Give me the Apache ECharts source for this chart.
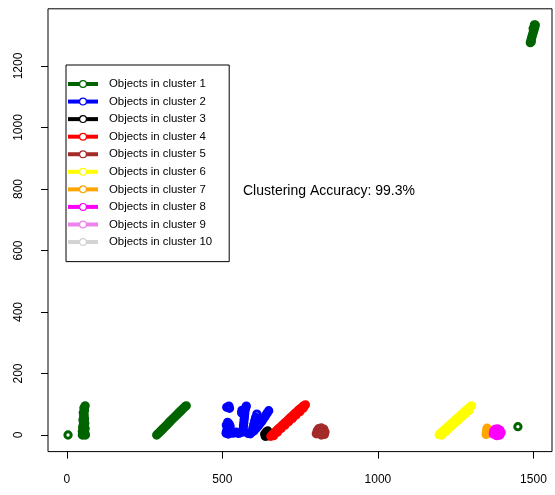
<!DOCTYPE html>
<html>
<head>
<meta charset="utf-8">
<script src="https://cdn.jsdelivr.net/npm/echarts@6/dist/echarts.min.js"></script>
<style>
html,body{margin:0;padding:0;background:#fff;}
#chart{width:555px;height:495px;}
</style>
</head>
<body>
<div id="chart"></div>
<script>
const xTicks = [0, 500, 1000, 1500];
const yTicks = [0, 200, 400, 600, 800, 1000, 1200];
const clusterNames = ['Objects in cluster 1','Objects in cluster 2','Objects in cluster 3','Objects in cluster 4','Objects in cluster 5','Objects in cluster 6','Objects in cluster 7','Objects in cluster 8','Objects in cluster 9','Objects in cluster 10'];
const clusterColors = ['#006400','#0000FF','#000000','#FF0000','#A52A2A','#FFFF00','#FFA500','#FF00FF','#EE82EE','#D3D3D3'];
const annotationText = 'Clustering Accuracy: 99.3%';

const cluster1 = [
 [4,0],
 [50,0],[55,1],[60,0],[52,5],[58,7],[50,11],[56,13],[53,18],[59,21],[51,25],[56,29],[53,34],[58,38],[55,44],[52,49],[57,53],[54,58],[56,65],[53,72],[57,80],[55,88],[59,95],
 [289,0],[294,5],[299,10],[304,15],[309,20],[314,25],[319,30],[324,35],[329,41],[334,46],[339,51],[344,56],[349,61],[354,66],[359,71],[364,76],[369,81],[374,86],[379,91],[384,95],
 [1450,27],
 [1490,1276],[1492,1284],[1494,1291],[1496,1298],[1498,1305],[1500,1312],[1502,1319],[1504,1326],[1506,1333],[1493,1279],[1499,1322],[1503,1334]
];
const cluster2 = [
 [514,90],[521,94],[523,87],
 [512,6],[519,3],[527,7],[514,14],[524,17],[516,24],[525,28],[513,32],[522,36],[517,41],
 [535,6],[544,9],[552,5],[559,8],
 [567,10],[567,20],[568,30],[569,40],[570,50],[571,60],[572,70],[573,80],[575,88],[577,94],[562,72],[563,80],
 [583,5],[590,4],[596,10],[598,22],[601,34],[604,46],[607,57],[611,68],
 [602,14],[609,22],[616,30],[622,38],[628,46],[634,55],[639,63],[644,71],[649,79]
];
const cluster3 = [[636,3],[641,10],[646,13],[643,1],[650,5],[638,-4],[645,-3]];
const cluster4 = [
 [656,-4],[661,1],[667,7],[673,13],[679,19],[685,24],[691,30],[697,36],[703,41],[709,47],[715,53],[721,58],[727,64],[733,70],[739,75],[745,81],[751,86],[757,91],[762,95],[767,98],
 [665,-2],[677,9],[689,21],[701,32],[713,43],[725,54],[737,65],[749,76],[760,87]
];
const cluster5 = [[802,4],[805,14],[810,21],[818,23],[826,19],[830,10],[828,2],[818,0],[810,6],[816,12],[822,8]];
const cluster6 = [
 [1197,1],[1202,6],[1208,11],[1213,16],[1219,21],[1224,26],[1230,31],[1235,36],[1241,41],[1246,46],[1252,51],[1257,56],[1263,61],[1268,66],[1274,71],[1279,76],[1285,81],[1290,86],[1296,91],[1301,95],
 [1205,0],[1216,10],[1227,20],[1238,30],[1249,40],[1260,50],[1271,60],[1282,70],[1293,80]
];
const cluster7 = [[1348,2],[1349,9],[1350,16],[1351,22],[1353,5]];
const cluster8 = [[1371,3],[1372,12],[1376,18],[1384,20],[1392,16],[1396,8],[1392,0],[1382,-2],[1378,8],[1386,10]];
const cluster9 = [];
const cluster10 = [];

const clusterData = [cluster1, cluster2, cluster3, cluster4, cluster5, cluster6, cluster7, cluster8, cluster9, cluster10];
const FONT = "'Liberation Sans', Arial, Helvetica, sans-serif";

const chart = echarts.init(document.getElementById('chart'), null, {renderer: 'canvas'});

const series = clusterNames.map((name, i) => ({
  name: name,
  type: 'line',
  data: clusterData[i],
  symbol: 'circle',
  symbolSize: 6.3,
  showSymbol: true,
  itemStyle: {color: 'transparent', borderColor: clusterColors[i], borderWidth: 3},
  lineStyle: {width: 0, opacity: 0, color: clusterColors[i]},
  emphasis: {disabled: true},
  silent: true,
  animation: false
}));

chart.setOption({
  animation: false,
  backgroundColor: '#fff',
  grid: {left: 48, right: 3, top: 8.8, bottom: 43.4, show: true, borderColor: '#000', borderWidth: 1, backgroundColor: 'transparent'},
  xAxis: {
    type: 'value', min: -60.4, max: 1559.6,
    axisLine: {show: false, onZero: false},
    splitLine: {show: false},
    axisTick: {show: true, customValues: xTicks, length: 7, inside: false, lineStyle: {color: '#000', width: 1}},
    axisLabel: {show: true, customValues: xTicks, margin: 22, fontSize: 12, color: '#000', fontFamily: FONT, formatter: v => String(v)}
  },
  yAxis: {
    type: 'value', min: -54, max: 1386,
    axisLine: {show: false, onZero: false},
    splitLine: {show: false},
    axisTick: {show: true, customValues: yTicks, length: 7, inside: false, lineStyle: {color: '#000', width: 1}},
    axisLabel: {show: true, customValues: yTicks, rotate: 90, margin: 23, fontSize: 12, color: '#000', fontFamily: FONT, formatter: v => String(v)}
  },
  legend: {
    orient: 'vertical', left: 66, top: 65,
    data: clusterNames,
    itemWidth: 30, itemHeight: 8.5, itemGap: 5.56,
    padding: [13, 17, 13.6, 0],
    backgroundColor: '#fff', borderColor: '#000', borderWidth: 1,
    selectedMode: false,
    textStyle: {fontSize: 11.4, fontFamily: FONT, color: '#000', lineHeight: 12, padding: [0, 0, 0, 6]},
    lineStyle: {width: 4, opacity: 1},
    itemStyle: {color: '#fff', borderWidth: 1.2, opacity: 1}
  },
  graphic: [{
    type: 'text', left: 243, top: 184,
    style: {text: annotationText, font: '14px ' + FONT, fill: '#000'}
  }],
  series: series
});
</script>
</body>
</html>
